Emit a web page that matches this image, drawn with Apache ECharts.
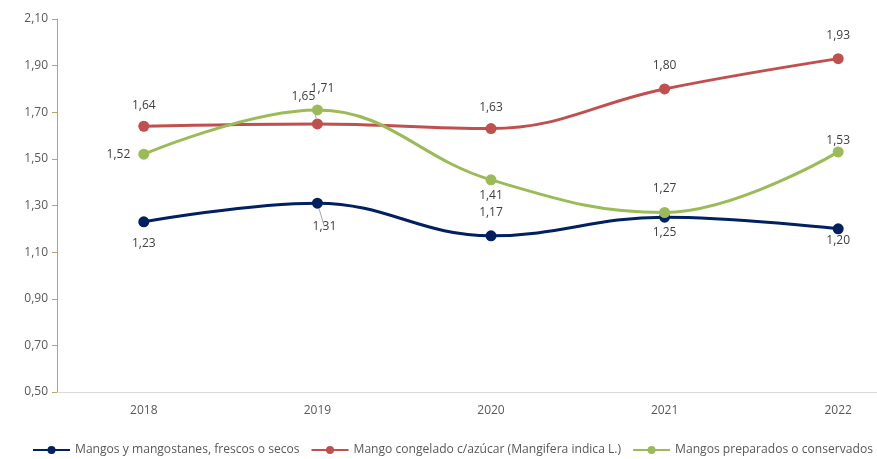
<!DOCTYPE html>
<html>
<head>
<meta charset="utf-8">
<script src="https://cdn.jsdelivr.net/npm/echarts@6/dist/echarts.min.js"></script>
<style>
  html, body { margin: 0; padding: 0; background: #fff; overflow: hidden; }
  #chart { width: 877px; height: 459px; }
</style>
</head>
<body>
<div id="chart"></div>
<script>
var years = ['2018', '2019', '2020', '2021', '2022']
var seriesNames = [
  'Mangos y mangostanes, frescos o secos',
  'Mango congelado c/azúcar (Mangifera indica L.)',
  'Mangos preparados o conservados'
]
var frescos = [1.23, 1.31, 1.17, 1.25, 1.20]
var congelado = [1.64, 1.65, 1.63, 1.80, 1.93]
var preparados = [1.52, 1.71, 1.41, 1.27, 1.53]

// ubicación de cada etiqueta
var frescosLabels = [
  { position: 'bottom', distance: 10 },
  { position: 'bottom', offset: [7, 0] },
  { position: 'top' },
  { position: 'bottom', distance: 4 },
  { position: 'bottom', distance: 0 }
]
var congeladoLabels = [
  { position: 'top', distance: 9 },
  { position: 'top', offset: [-14, -4] },
  { position: 'top', distance: 9 },
  { position: 'top' },
  { position: 'top' }
]
var preparadosLabels = [
  { position: 'left', distance: 8 },
  { position: 'top', distance: 10, offset: [5, 0] },
  { position: 'bottom', distance: 4 },
  { position: 'top' },
  { position: 'top', distance: 0 }
]
var leaderLines = { '0-1': true, '1-1': true }

function toData(values, labels, s) {
  return values.map(function(v, i) {
    var item = { value: v, label: labels[i] }
    if (leaderLines[s + '-' + i]) {
      item.labelLine = { show: true, length2: 0, lineStyle: { color: '#a6a6a6', width: 1 } }
    }
    return item
  })
}

var chart = echarts.init(document.getElementById('chart'))

function makeSeries(s, values, labels, color) {
  return {
    name: seriesNames[s],
    type: 'line',
    smooth: 0.4,
    symbol: 'circle',
    symbolSize: 11,
    lineStyle: { width: 3, color: color },
    itemStyle: { color: color },
    label: {
      show: true,
      distance: 12,
      color: '#404040',
      fontSize: 12,
      fontFamily: 'Open Sans',
      formatter: function(p) { return p.value.toFixed(2).replace('.', ',') }
    },
    data: toData(values, labels, s)
  }
}

chart.setOption({
  animation: false,
  grid: { left: 57, top: 19, height: 373, width: 868, outerBoundsMode: 'none', containLabel: false },
  legend: {
    left: 27,
    top: 439,
    width: 1000,
    itemWidth: 37,
    itemHeight: 10,
    itemGap: 11,
    textStyle: { color: '#595959', fontSize: 12.1, fontFamily: 'Open Sans' },
    data: seriesNames
  },
  xAxis: {
    type: 'category',
    data: years,
    axisLine: { lineStyle: { color: '#d9d9d9' } },
    axisTick: { show: false },
    axisLabel: { color: '#595959', fontSize: 12, fontFamily: 'Open Sans', margin: 13 }
  },
  yAxis: {
    type: 'value',
    min: 0.5,
    max: 2.1,
    interval: 0.2,
    splitLine: { show: false },
    axisLine: { show: true, lineStyle: { color: '#b5a66e' } },
    axisTick: { show: true, inside: false, length: 5, lineStyle: { color: '#b5a66e' } },
    axisLabel: {
      color: '#595959',
      fontSize: 12,
      fontFamily: 'Open Sans',
      margin: 9,
      formatter: function(v) { return v.toFixed(2).replace('.', ',') }
    }
  },
  series: [
    makeSeries(0, frescos, frescosLabels, '#002060'),
    makeSeries(1, congelado, congeladoLabels, '#c0504d'),
    makeSeries(2, preparados, preparadosLabels, '#9bbb59')
  ]
})
</script>
</body>
</html>
